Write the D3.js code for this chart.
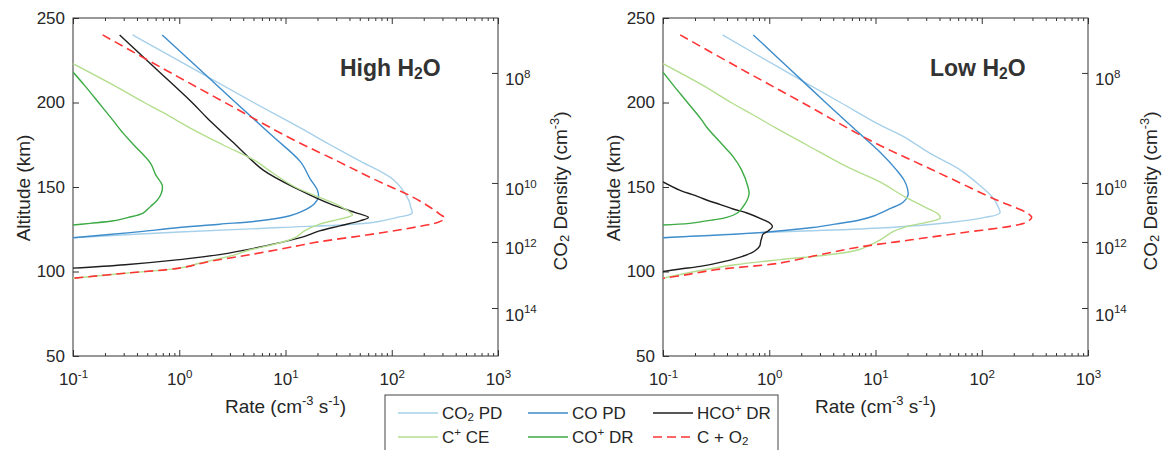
<!DOCTYPE html>
<html>
<head>
<meta charset="utf-8">
<script src="https://cdn.jsdelivr.net/npm/d3@7/dist/d3.min.js"></script>
<style>
  body { margin: 0; background: #fff; }
  svg, .axis { font-family: 'Liberation Sans', Arial, sans-serif; }
  .axis text { font-size: 17px; fill: #262626; }
  .axis line { stroke: #333; }
  .axis path { display: none; }
  .frame { fill: none; stroke: #333; stroke-width: 1; }
  .axis-label { font-size: 19px; fill: #262626; }
  .panel-title { font-size: 23px; font-weight: bold; fill: #333; }
  .legend-text { font-size: 17px; fill: #262626; }
</style>
</head>
<body>
<div id="chart"></div>
<script>
'use strict';

// [altitude (km), rate (cm^-3 s^-1)]
var highCO2PD = [[240,0.363],[220,1.35],[200,5.01],[185,13.8],[175,26.3],[166,47.9],[154,105],[142,145],[138,151],[134.5,155],[132,112],[129,66.1],[126,8.91],[123.4,1.0],[120,0.1]];
var highCOPD = [[240,0.692],[200,3.39],[180,7.59],[165,13.8],[155,17.0],[148,20.0],[144,20.4],[140,18.6],[136,14.8],[133,11.0],[130,5.75],[128,2.4],[126,1.0],[123,0.347],[120,0.1]];
var highHCOpDR = [[240,0.275],[220,0.603],[200,1.32],[191,1.82],[175,3.39],[160,6.17],[148,13.8],[140,26.3],[135,44.7],[132,60.3],[130,50.1],[127,32.4],[124,20.9],[120,13.8],[115,6.31],[110,2.4],[107,1.0],[104,0.309],[102,0.1]];
var highCpCE = [[223,0.1],[210,0.245],[200,0.468],[194,0.708],[184,1.35],[175,2.57],[165,5.37],[160,6.92],[150,12.3],[140,29.5],[135,40.7],[133.4,42.7],[131,32.4],[128,20.9],[124,15.1],[120,12.3],[117,8.91],[112,4.17],[110,3.39],[105,1.58],[102,1.0],[99,0.309],[96,0.1]];
var highCOpDR = [[218,0.1],[210,0.129],[200,0.174],[190,0.234],[182,0.295],[175,0.372],[164,0.537],[157,0.603],[151,0.692],[146,0.676],[142,0.617],[138.5,0.537],[134.6,0.457],[132,0.331],[130,0.24],[128.5,0.145],[127.5,0.1]];
var highCplusO2 = [[240,0.19],[220,0.708],[200,2.69],[179,11.0],[165,31.6],[155,66.1],[144,158],[138,229],[134,282],[131.5,316],[129,269],[127.5,214],[122.8,77.6],[117,18.2],[115,12.6],[110,4.68],[106,1.95],[102,1.0],[99,0.309],[96,0.1]];

var lowCO2PD = [[240,0.363],[220,1.29],[200,4.68],[186.7,11.0],[180,18.2],[170,32.4],[160,63.1],[151,95.5],[144,126],[139,141],[134.6,148],[132,107],[129,50.1],[125.7,11.0],[123,0.871],[120,0.1]];
var lowCOPD = [[240,0.708],[220,1.55],[200,3.39],[185,6.17],[170.7,11.0],[160,15.8],[154,18.6],[149,20.0],[145,20.2],[141,18.2],[137,13.5],[133,9.77],[130.5,7.08],[128,4.17],[126,2.57],[123,0.813],[120,0.1]];
var lowHCOpDR = [[153,0.1],[148,0.145],[145,0.2],[142.3,0.257],[139.6,0.347],[137,0.457],[134.6,0.617],[131,0.851],[128.5,1.02],[126.5,1.07],[124,0.977],[122,0.871],[120,0.851],[118,0.832],[115,0.813],[112,0.724],[109,0.562],[106,0.38],[103,0.224],[101.5,0.145],[100,0.1]];
var lowCpCE = [[223,0.1],[210,0.24],[200,0.437],[192.6,0.708],[185,1.15],[175,2.24],[162,5.37],[153,11.0],[144,19.1],[138,29.5],[134,38.9],[131.6,40.7],[129.5,32.4],[127,20.9],[124,15.1],[118.6,11.0],[113,7.08],[110,3.72],[107,1.26],[104,0.479],[100,0.2],[96,0.1]];
var lowCOpDR = [[218,0.1],[210,0.126],[200,0.17],[190,0.229],[185.5,0.257],[175,0.363],[168,0.457],[160,0.55],[150,0.631],[146,0.646],[142,0.617],[138,0.562],[134.6,0.501],[132,0.398],[130.5,0.295],[128.5,0.178],[127.5,0.1]];
var lowCplusO2 = [[240,0.145],[220,0.537],[200,2.04],[176.6,9.55],[165,23.4],[155,51.3],[142.3,138],[138,204],[134.5,269],[132,295],[129.5,269],[127.5,214],[122.8,63.1],[118.6,20.9],[114.5,7.08],[110,3.02],[105,1.26],[101,0.309],[98,0.162],[96,0.1]];

// axes
var altTicks = [50, 100, 150, 200, 250];
var rateExps = [-1, 0, 1, 2, 3];
var densityExps = [8, 10, 12, 14];
var densityAlts = [217.5, 152.4, 117.5, 78.4];   // altitude where CO2 density hits each decade

var lineSets = {
  co2pd:  { color: '#a6d0ea', width: 1.4, label: [['CO',''],['2','sub'],[' PD','']] },
  copd:   { color: '#3d8ccb', width: 1.4, label: [['CO PD','']] },
  hcodr:  { color: '#1e1e1e', width: 1.4, label: [['HCO',''],['+','sup'],[' DR','']] },
  cpce:   { color: '#b3de8e', width: 1.4, label: [['C',''],['+','sup'],[' CE','']] },
  copdr:  { color: '#3dab45', width: 1.4, label: [['CO',''],['+','sup'],[' DR','']] },
  cplus:  { color: '#ff3535', width: 1.6, dash: '9,5', label: [['C + O',''],['2','sub']] }
};
var legendOrder = [ 'co2pd', 'copd', 'hcodr', 'cpce', 'copdr', 'cplus' ];

var panels = [
  { left: 73, title: [['High H',''],['2','sub'],['O','']],
    data: { co2pd: highCO2PD, copd: highCOPD, hcodr: highHCOpDR, cpce: highCpCE, copdr: highCOpDR, cplus: highCplusO2 } },
  { left: 663, title: [['Low H',''],['2','sub'],['O','']],
    data: { co2pd: lowCO2PD, copd: lowCOPD, hcodr: lowHCOpDR, cpce: lowCpCE, copdr: lowCOpDR, cplus: lowCplusO2 } }
];

var marginTop = 18, width = 425, height = 338;

// write text with sub/superscript pieces
function richText( text, parts, size ) {
  var shift = 0;
  parts.forEach( function( p ) {
    var target = 0, fs = size;
    if ( p[1] === 'sup' ) { target = -size * 0.42; fs = size * 0.68; }
    if ( p[1] === 'sub' ) { target = size * 0.12; fs = size * 0.68; }
    text.append( 'tspan' )
      .attr( 'dy', target - shift )
      .style( 'font-size', fs + 'px' )
      .text( p[0] );
    shift = target;
  } );
  return text;
}

function powerLabel( sel, exp, baseline ) {
  sel.text( null ).attr( 'dy', null ).attr( 'y', baseline );
  richText( sel, [ ['10',''], [String( exp ), 'sup'] ], 17 );
}

var svg = d3.select( '#chart' )
  .append( 'svg' )
    .attr( 'width', 1164 )
    .attr( 'height', 450 );

var y = d3.scaleLinear().domain( [ 50, 250 ] ).range( [ height, 0 ] );
var x = d3.scaleLog().domain( [ 0.1, 1000 ] ).range( [ 0, width ] );

var majors = rateExps.map( function( e ) { return Math.pow( 10, e ); } );
var minors = [];
rateExps.slice( 0, -1 ).forEach( function( e ) {
  for ( var k = 2; k < 10; k++ ) minors.push( k * Math.pow( 10, e ) );
} );

var line = d3.line()
  .x( function( d ) { return x( d[1] ); } )
  .y( function( d ) { return y( d[0] ); } )
  .curve( d3.curveCatmullRom.alpha( 0.5 ) );

panels.forEach( function( panel, i ) {
  var g = svg.append( 'g' )
    .attr( 'transform', 'translate(' + panel.left + ',' + marginTop + ')' );

  g.append( 'clipPath' ).attr( 'id', 'clip' + i )
    .append( 'rect' ).attr( 'width', width ).attr( 'height', height );

  // bottom axis, ticks pointing in
  g.append( 'g' ).classed( 'axis', true )
    .attr( 'transform', 'translate(0,' + height + ')' )
    .call( d3.axisBottom( x ).tickValues( minors ).tickSizeInner( -3 ).tickSizeOuter( 0 ).tickFormat( '' ) );
  g.append( 'g' ).classed( 'axis', true )
    .attr( 'transform', 'translate(0,' + height + ')' )
    .call( d3.axisBottom( x ).tickValues( majors ).tickSizeInner( -6 ).tickSizeOuter( 0 ) )
    .selectAll( '.tick text' )
      .each( function( d, j ) { powerLabel( d3.select( this ), rateExps[j], 29 ); } );

  // top axis, no labels
  g.append( 'g' ).classed( 'axis', true )
    .call( d3.axisTop( x ).tickValues( minors ).tickSizeInner( -3 ).tickSizeOuter( 0 ).tickFormat( '' ) );
  g.append( 'g' ).classed( 'axis', true )
    .call( d3.axisTop( x ).tickValues( majors ).tickSizeInner( -6 ).tickSizeOuter( 0 ).tickFormat( '' ) );

  // altitude axis
  g.append( 'g' ).classed( 'axis', true )
    .call( d3.axisLeft( y ).tickValues( altTicks ).tickSizeInner( -6 ).tickSizeOuter( 0 ).tickPadding( 8 ) );

  // CO2 density axis on the right
  g.append( 'g' ).classed( 'axis', true )
    .attr( 'transform', 'translate(' + width + ',0)' )
    .call( d3.axisRight( y ).tickValues( densityAlts ).tickSizeInner( -6 ).tickSizeOuter( 0 ).tickPadding( 7 ) )
    .selectAll( '.tick text' )
      .each( function( d, j ) { powerLabel( d3.select( this ), densityExps[j], 12 ); } );

  g.append( 'rect' ).classed( 'frame', true )
    .attr( 'width', width ).attr( 'height', height );

  // curves
  var lines = g.append( 'g' ).attr( 'clip-path', 'url(#clip' + i + ')' );
  legendOrder.forEach( function( key ) {
    lines.append( 'path' )
      .attr( 'd', line( panel.data[key] ) )
      .attr( 'fill', 'none' )
      .attr( 'stroke', lineSets[key].color )
      .attr( 'stroke-width', lineSets[key].width )
      .attr( 'stroke-dasharray', lineSets[key].dash || null );
  } );

  // title
  richText( g.append( 'text' ).classed( 'panel-title', true )
    .attr( 'x', width - 158 ).attr( 'y', 58 ), panel.title, 23 );

  // axis labels
  richText( g.append( 'text' ).classed( 'axis-label', true )
    .attr( 'text-anchor', 'middle' )
    .attr( 'x', width / 2 ).attr( 'y', height + 57 ),
    [ ['Rate (cm',''], ['-3','sup'], [' s',''], ['-1','sup'], [')',''] ], 19 );

  g.append( 'text' ).classed( 'axis-label', true )
    .attr( 'text-anchor', 'middle' )
    .attr( 'transform', 'translate(-43,' + ( height / 2 + 1 ) + ') rotate(-90)' )
    .text( 'Altitude (km)' );

  richText( g.append( 'text' ).classed( 'axis-label', true )
    .attr( 'text-anchor', 'middle' )
    .attr( 'transform', 'translate(' + ( width + 69 ) + ',' + ( height / 2 + 4 ) + ') rotate(-90)' ),
    [ ['CO',''], ['2','sub'], [' Density (cm',''], ['-3','sup'], [')',''] ], 19 );
} );

// legend
var legend = svg.append( 'g' ).attr( 'transform', 'translate(385,395)' );
legend.append( 'rect' )
  .attr( 'width', 393 ).attr( 'height', 70 )
  .attr( 'fill', '#fff' ).attr( 'stroke', '#444' );

var colX = [ 13, 143, 268 ], rowY = [ 18, 42 ];
legendOrder.forEach( function( key, k ) {
  var lx = colX[k % 3], ly = rowY[Math.floor( k / 3 )];
  legend.append( 'line' )
    .attr( 'x1', lx ).attr( 'x2', lx + 40 )
    .attr( 'y1', ly ).attr( 'y2', ly )
    .attr( 'stroke', lineSets[key].color )
    .attr( 'stroke-width', lineSets[key].width )
    .attr( 'stroke-dasharray', lineSets[key].dash || null );
  richText( legend.append( 'text' ).classed( 'legend-text', true )
    .attr( 'x', lx + 44 ).attr( 'y', ly + 6 ), lineSets[key].label, 17 );
} );
</script>
</body>
</html>
